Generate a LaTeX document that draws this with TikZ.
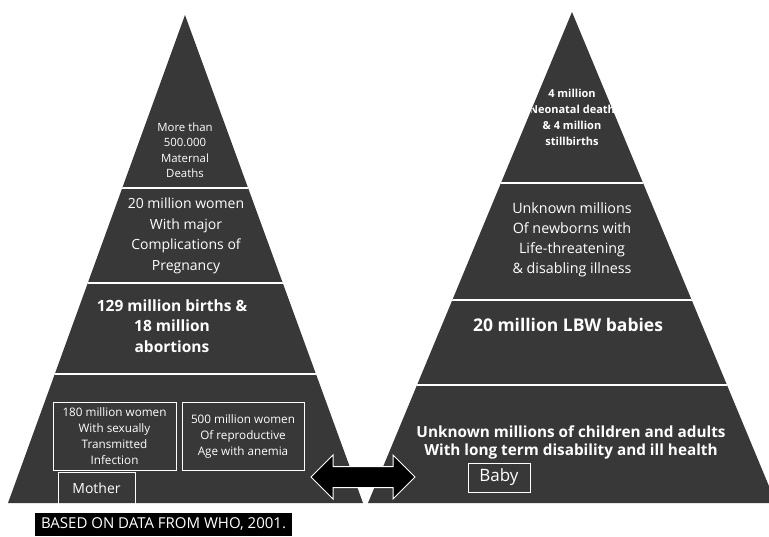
\documentclass[tikz,border=0pt]{standalone}
\usepackage{fontspec}
\setmainfont{Open Sans}
\usetikzlibrary{shapes.arrows}
\definecolor{pyrgray}{gray}{0.22}
\tikzset{
  pyrtext/.style={text=white, align=center, inner sep=0pt},
  whitebox/.style={draw=white, line width=1pt, text=white, align=center, inner sep=1pt}
}
\begin{document}
\begin{tikzpicture}[x=1pt, y=-1pt]
\useasboundingbox (0,0) rectangle (769,536);
%mother pyramid
\coordinate (mtop) at (185,15);
\coordinate (mleft) at (8,503);
\coordinate (mright) at (363,503);
\fill[pyrgray] (mtop) -- (mleft) -- (mright) -- cycle;
\begin{scope}
  \clip (mtop) -- (mleft) -- (mright) -- cycle;
  \foreach \y in {188, 283, 374}{
    \draw[white, line width=1.5pt] (0,\y) -- (400,\y);
  }
\end{scope}
\node[pyrtext, font=\fontsize{11.4}{15.5}\selectfont] (mdeath) at (185,150)
  {More than\\500.000\\Maternal\\Deaths};
\node[pyrtext, font=\fontsize{14}{20.5}\selectfont] (mcompl) at (186,236)
  {20 million women\\With major\\Complications of\\Pregnancy};
\node[pyrtext, font=\fontsize{15.5}{20.5}\selectfont\bfseries] (mbirth) at (172,326)
  {129 million births \&\\18 million\\abortions};
\node[whitebox, minimum width=123pt, minimum height=68pt, font=\fontsize{11.7}{16}\selectfont] (msti) at (114.5,436)
  {180 million women\\With sexually\\Transmitted\\Infection};
\node[whitebox, minimum width=122pt, minimum height=68pt, font=\fontsize{11.7}{16}\selectfont] (manemia) at (243,436)
  {500 million women\\Of reproductive\\Age with anemia};
\node[whitebox, minimum width=77pt, minimum height=32pt, font=\fontsize{14}{15}\selectfont] (mother) at (96.5,488) {Mother};

%baby pyramid
\coordinate (btop) at (572,12);
\coordinate (bleft) at (368,503);
\coordinate (bright) at (776,503);
\fill[pyrgray] (btop) -- (bleft) -- (bright) -- cycle;
\begin{scope}
  \clip (btop) -- (bleft) -- (bright) -- cycle;
  \foreach \y in {183, 300, 385}{
    \draw[white, line width=1.5pt] (360,\y) -- (780,\y);
  }
  \node[pyrtext, font=\fontsize{11}{16}\selectfont\bfseries] (bdeath) at (572,117.5)
    {4 million\\Neonatal death\\\& 4 million\\stillbirths};
\end{scope}
\node[pyrtext, font=\fontsize{14.3}{20}\selectfont] (bill) at (572,240)
  {Unknown millions\\Of newborns with\\Life-threatening\\\& disabling illness};
\node[pyrtext, font=\fontsize{17.5}{18}\selectfont\bfseries] (blbw) at (568,325) {20 million LBW babies};
\node[pyrtext, font=\fontsize{15.3}{18}\selectfont\bfseries] (blong) at (571,442)
  {Unknown millions of children and adults\\With long term disability and ill health};
\node[whitebox, minimum width=62pt, minimum height=29pt, font=\fontsize{17}{18}\selectfont] (baby) at (499,477.5) {Baby};

%link arrow
\node[double arrow, fill=black, draw=white, line width=1pt, minimum height=104pt,
  inner xsep=0pt, inner ysep=10pt, double arrow head extend=11.5pt] (link) at (363,477) {};

%source
\node[fill=black, text=white, minimum width=257pt, minimum height=23pt, inner sep=0pt,
  font=\fontsize{15}{16}\selectfont] (source) at (163.5,524.5) {BASED ON DATA FROM WHO, 2001.};
\end{tikzpicture}
\end{document}
